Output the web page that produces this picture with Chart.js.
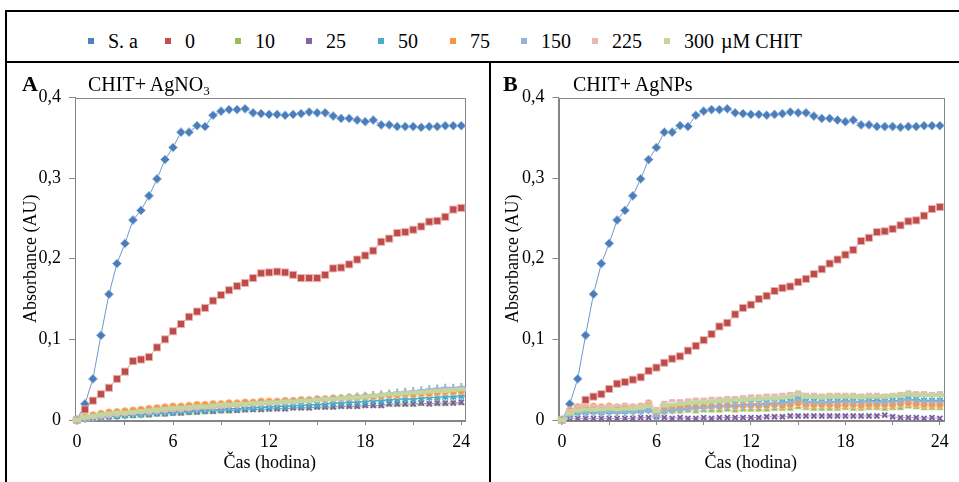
<!DOCTYPE html>
<html><head><meta charset="utf-8">
<script src="https://cdn.jsdelivr.net/npm/chart.js@4.4.0/dist/chart.umd.min.js"></script>
<style>
html,body{margin:0;padding:0;background:#fff;}
body{width:959px;height:482px;position:relative;overflow:hidden;font-family:"Liberation Serif","Times New Roman",serif;color:#000;}
.ln{position:absolute;background:#000;}
.cv{position:absolute;}
.mk{position:absolute;top:38px;width:6px;height:6px;}
.lt{position:absolute;top:29px;font-size:20px;line-height:24px;white-space:nowrap;}
.pl{position:absolute;font-size:22px;line-height:22px;font-weight:bold;}
.pt{position:absolute;font-size:20px;line-height:20px;white-space:nowrap;}
.pt sub{font-size:13px;vertical-align:-4px;line-height:0;}
</style></head><body>
<div class="ln" style="left:5px;top:10px;width:954px;height:2px"></div>
<div class="ln" style="left:5px;top:10px;width:2px;height:472px"></div>
<div class="ln" style="left:5px;top:61px;width:954px;height:2px"></div>
<div class="ln" style="left:489px;top:61px;width:2px;height:421px"></div>
<div id="legend"></div>
<canvas id="cA" class="cv" width="482" height="418" style="left:7px;top:64px"></canvas>
<canvas id="cB" class="cv" width="467" height="418" style="left:492px;top:64px"></canvas>
<div class="pl" style="left:22px;top:73px">A</div>
<div class="pt" style="left:88px;top:74px">CHIT+ AgNO<sub>3</sub></div>
<div class="pl" style="left:503px;top:73px">B</div>
<div class="pt" style="left:573px;top:74px">CHIT+ AgNPs</div>
<script>
// ---------------- DATA ----------------
const seriesLabels = ['S. a', '0', '10', '25', '50', '75', '150', '225', '300'];
const unitLabel = 'µM CHIT';
const xTickValues = [0, 3, 6, 9, 12, 15, 18, 21, 24];
const yTickValues = [0, 0.1, 0.2, 0.3, 0.4];
const times = [0,0.5,1,1.5,2,2.5,3,3.5,4,4.5,5,5.5,6,6.5,7,7.5,8,8.5,9,9.5,10,10.5,11,11.5,12,
  12.5,13,13.5,14,14.5,15,15.5,16,16.5,17,17.5,18,18.5,19,19.5,20,20.5,21,21.5,22,22.5,23,23.5,24];

// S. a control (same in both panels)
const sa = [0,0.020,0.051,0.105,0.156,0.194,0.219,0.248,0.260,0.278,0.299,0.323,0.338,0.357,0.357,0.365,0.364,
  0.378,0.383,0.385,0.385,0.386,0.381,0.380,0.379,0.379,0.378,0.379,0.380,0.382,0.381,0.381,0.377,0.374,0.374,
  0.372,0.370,0.372,0.366,0.366,0.364,0.364,0.364,0.363,0.364,0.364,0.365,0.365,0.365];

// Panel A: CHIT + AgNO3
const c0A = [0,0.013,0.024,0.032,0.040,0.051,0.060,0.073,0.075,0.078,0.090,0.100,0.110,0.119,0.128,0.1345,0.139,
  0.148,0.155,0.161,0.166,0.170,0.176,0.182,0.183,0.184,0.183,0.180,0.176,0.176,0.176,
  0.180,0.188,0.189,0.193,0.199,0.204,0.210,0.221,0.225,0.232,0.233,0.236,0.240,0.246,0.247,0.252,0.261,0.263];
const c10A = [0,0.001,0.002,0.003,0.004,0.004,0.005,0.005,0.006, 0.006,0.007,0.007,0.008,0.008,0.009,0.009,0.010,
  0.010,0.011,0.011,0.012,0.012,0.013,0.013,0.013, 0.014,0.014,0.015,0.015,0.015,0.016,0.016,0.016,
  0.017,0.017,0.017,0.018,0.018,0.018,0.019,0.019, 0.019,0.019,0.020,0.020,0.020,0.020,0.021,0.021];
const c25A = [0,0.002,0.003,0.004,0.004,0.005,0.006,0.006,0.007, 0.007,0.008,0.008,0.009,0.009,0.010,0.010,0.011,
  0.011,0.012,0.012,0.012,0.013,0.013,0.013,0.014, 0.014,0.014,0.015,0.015,0.015,0.016,0.016,0.016,
  0.017,0.017,0.017,0.018,0.018,0.018,0.020,0.020, 0.020,0.020,0.021,0.020,0.021,0.021,0.021,0.022];
const c50A = [0,0.002,0.003,0.004,0.005,0.005,0.006,0.007,0.007, 0.008,0.009,0.009,0.010,0.011,0.011,0.012,0.012,
  0.013,0.013,0.014,0.014,0.015,0.015,0.016,0.016, 0.017,0.017,0.018,0.018,0.019,0.019,0.020,0.021,
  0.021,0.022,0.022,0.023,0.024,0.024,0.025,0.026, 0.026,0.026,0.027,0.028,0.028,0.029,0.029,0.030];
const c75A = [0,0.004,0.006,0.008,0.0095,0.010,0.011,0.012,0.013, 0.014,0.015,0.016,0.017,0.017,0.018,0.019,0.019,
  0.020,0.020,0.021,0.021,0.022,0.022,0.023,0.023, 0.023,0.024,0.024,0.025,0.025,0.026,0.026,0.027,
  0.027,0.028,0.028,0.029,0.029,0.030,0.031,0.031, 0.032,0.032,0.033,0.033,0.034,0.035,0.035,0.036];
const c150A = [0,0.002,0.003,0.005,0.006,0.007,0.008,0.008,0.009, 0.010,0.011,0.011,0.012,0.013,0.014,0.014,0.015,
  0.016,0.016,0.017,0.018,0.018,0.019,0.020,0.020, 0.021,0.022,0.022,0.023,0.024,0.025,0.025,0.026,
  0.027,0.028,0.029,0.030,0.031,0.032,0.033,0.034, 0.035,0.036,0.037,0.038,0.039,0.040,0.040,0.041];
const c225A = [0,0.002,0.003,0.004,0.005,0.006,0.007,0.008,0.009, 0.009,0.010,0.011,0.012,0.012,0.013,0.014,0.015,
  0.015,0.016,0.017,0.017,0.018,0.019,0.019,0.020, 0.021,0.021,0.022,0.023,0.023,0.024,0.025,0.026,
  0.026,0.027,0.028,0.029,0.030,0.031,0.032,0.033, 0.034,0.034,0.035,0.036,0.037,0.038,0.038,0.039];
const c300A = [0,0.004,0.005,0.007,0.008,0.009,0.009,0.010,0.011, 0.012,0.013,0.014,0.015,0.015,0.016,0.017,0.017,
  0.018,0.019,0.019,0.020,0.020,0.021,0.021,0.022, 0.022,0.023,0.023,0.024,0.024,0.025,0.026,0.026,
  0.027,0.028,0.028,0.029,0.030,0.031,0.032,0.032, 0.033,0.034,0.034,0.035,0.036,0.036,0.037,0.038];

// Panel B: CHIT + AgNPs
const c0B = [0,0.009,0.015,0.025,0.029,0.032,0.0385,0.045,0.047, 0.050,0.053,0.061,0.065,0.071,0.076,0.079,0.086,
  0.092,0.099,0.1065,0.116,0.1205,0.131,0.139,0.143, 0.150,0.154,0.160,0.1636,0.1656,0.171,0.175,0.181,
  0.187,0.194,0.199,0.205,0.211,0.222,0.226,0.233, 0.234,0.237,0.2414,0.2464,0.2476,0.2534,0.2617,0.2642];
const c10B = [0,0.006,0.009,0.010,0.010,0.010,0.010,0.010,0.011, 0.010,0.011,0.012,0.007,0.010,0.011,0.011,0.012,
  0.011,0.012,0.012,0.012,0.013,0.012,0.013,0.013, 0.013,0.013,0.014,0.014,0.014,0.016,0.015,0.014,
  0.014,0.014,0.014,0.015,0.014,0.014,0.015,0.015, 0.014,0.015,0.015,0.017,0.016,0.015,0.015,0.015];
const c25B = [0,0.002,0.002,0.002,0.002,0.002,0.002,0.002,0.002, 0.002,0.003,0.003,0.004,0.003,0.002,0.003,0.002,
  0.002,0.003,0.002,0.003,0.003,0.003,0.003,0.003, 0.003,0.004,0.004,0.004,0.005,0.005,0.005,0.005,
  0.005,0.005,0.005,0.005,0.005,0.005,0.005,0.005, 0.006,0.004,0.003,0.003,0.003,0.002,0.003,0.002];
const c50B = [0,0.007,0.010,0.010,0.011,0.010,0.011,0.011,0.011, 0.012,0.012,0.013,0.008,0.013,0.014,0.015,0.016,
  0.016,0.017,0.017,0.018,0.018,0.019,0.019,0.020, 0.020,0.021,0.021,0.022,0.023,0.026,0.023,0.023,
  0.022,0.023,0.023,0.024,0.023,0.023,0.024,0.024, 0.023,0.024,0.024,0.026,0.025,0.024,0.024,0.024];
const c75B = [0,0.012,0.016,0.016,0.017,0.016,0.017,0.016,0.017, 0.016,0.017,0.021,0.011,0.015,0.016,0.016,0.017,
  0.016,0.017,0.017,0.017,0.018,0.017,0.018,0.018, 0.018,0.018,0.019,0.018,0.019,0.021,0.019,0.019,
  0.019,0.019,0.018,0.019,0.019,0.018,0.019,0.019, 0.019,0.019,0.020,0.021,0.020,0.019,0.019,0.019];
const c150B = [0,0.006,0.009,0.009,0.010,0.009,0.010,0.009,0.010, 0.010,0.011,0.012,0.005,0.011,0.012,0.013,0.014,
  0.015,0.015,0.016,0.017,0.017,0.018,0.018,0.019, 0.019,0.020,0.020,0.021,0.022,0.025,0.022,0.022,
  0.021,0.022,0.022,0.023,0.022,0.022,0.023,0.022, 0.022,0.023,0.023,0.025,0.024,0.023,0.023,0.023];
const c225B = [0,0.012,0.017,0.018,0.018,0.017,0.018,0.018,0.019, 0.018,0.019,0.022,0.014,0.022,0.024,0.024,0.025,
  0.026,0.026,0.027,0.027,0.028,0.028,0.029,0.030, 0.030,0.031,0.031,0.032,0.033,0.035,0.032,0.032,
  0.031,0.032,0.032,0.032,0.032,0.031,0.032,0.032, 0.031,0.032,0.033,0.035,0.034,0.034,0.033,0.034];
const c300B = [0,0.008,0.012,0.013,0.013,0.013,0.014,0.013,0.014, 0.014,0.015,0.017,0.011,0.018,0.019,0.020,0.021,
  0.022,0.022,0.023,0.024,0.024,0.025,0.025,0.026, 0.026,0.027,0.027,0.028,0.029,0.032,0.029,0.029,
  0.028,0.029,0.029,0.029,0.029,0.028,0.029,0.029, 0.029,0.030,0.030,0.032,0.031,0.031,0.031,0.031];

const panelA = [sa, c0A, c10A, c25A, c50A, c75A, c150A, c225A, c300A];
const panelB = [sa, c0B, c10B, c25B, c50B, c75B, c150B, c225B, c300B];

// ---------------- STYLE ----------------
const styles = [
  {color:'#4A7EBB', glow:'rgba(175,198,228,0.9)', line:'#6F98CC', shape:'rectRot', r:4.6, bw:1},
  {color:'#BE4B48', glow:'rgba(232,180,179,0.9)', line:'rgba(200,120,118,0.7)', shape:'rect', r:5, bw:1},
  {color:'#98B954', glow:'rgba(205,222,175,0.8)', line:'rgba(155,187,89,0.6)', shape:'triangle', r:4, bw:1},
  {color:'#7D60A0', glow:'#7D60A0', line:'rgba(128,100,162,0.6)', shape:'crossRot', r:3.5, bw:2},
  {color:'#46AAC5', glow:'#46AAC5', line:'rgba(75,172,198,0.6)', shape:'star', r:4, bw:1.6},
  {color:'#F79646', glow:'rgba(250,200,160,0.8)', line:'rgba(247,150,70,0.6)', shape:'circle', r:3.6, bw:1},
  {color:'#95B3D7', glow:'#95B3D7', line:'rgba(149,179,215,0.6)', shape:'cross', r:4, bw:2},
  {color:'#E6B9B8', glow:'#E6B9B8', line:'rgba(230,185,184,0.6)', shape:'line', r:3, bw:3},
  {color:'#C3D69B', glow:'#C3D69B', line:'rgba(195,214,155,0.6)', shape:'line', r:4.5, bw:4}
];
const strokeShapes = ['crossRot','star','cross','line'];
const legendColors = ['#4F81BD','#C0504D','#9BBB59','#8064A2','#4BACC6','#F79646','#95B3D7','#E6B9B8','#C3D69B'];
const legendTextX = [108,185,255,326,398,470,541,612,684];
const FONT = '"Liberation Serif","Times New Roman",serif';

// legend (HTML)
const leg = document.getElementById('legend');
seriesLabels.forEach((lab,i)=>{
  const m = document.createElement('div'); m.className='mk';
  m.style.left=(legendTextX[i]-20)+'px'; m.style.background=legendColors[i]; leg.appendChild(m);
  const t = document.createElement('div'); t.className='lt';
  t.style.left=legendTextX[i]+'px'; t.textContent=lab; leg.appendChild(t);
});
const u = document.createElement('div'); u.className='lt'; u.style.left='721px'; u.textContent=unitLabel; leg.appendChild(u);

const boxPlugin = {
  id:'box',
  beforeDatasetsDraw(chart){
    const {ctx, chartArea:a} = chart;
    ctx.save(); ctx.strokeStyle='#868686'; ctx.lineWidth=1;
    ctx.strokeRect(Math.round(a.left)+0.5, Math.round(a.top)+0.5, Math.round(a.right-a.left), Math.round(a.bottom-a.top));
    ctx.restore();
  }
};

function makePanel(id, values, yWidth, padRight, xMin, titlePad){
  const datasets = values.map((vals,i)=>{
    const s = styles[i];
    const stroke = strokeShapes.includes(s.shape);
    return {
      label: seriesLabels[i],
      data: times.map((t,k)=>({x:t, y:vals[k]})),
      showLine: true,
      borderColor: s.line,
      borderWidth: 1,
      pointStyle: s.shape,
      pointRadius: s.r,
      pointHoverRadius: s.r,
      pointBackgroundColor: s.color,
      pointBorderColor: stroke ? s.color : s.glow,
      pointBorderWidth: s.bw,
      clip: false,
      order: 10 - i
    };
  });
  return new Chart(document.getElementById(id), {
    type: 'scatter',
    data: {datasets},
    plugins: [boxPlugin],
    options: {
      responsive:false, animation:false, devicePixelRatio:1,
      layout:{padding:{top:33.5, right:padRight, left:0, bottom:0}},
      plugins:{legend:{display:false}, tooltip:{enabled:false}},
      scales:{
        x:{
          type:'linear', min:xMin, max:24.2,
          afterBuildTicks: ax => { ax.ticks = xTickValues.map(v=>({value:v})); },
          afterFit: s => { s.height = 62; },
          grid:{drawOnChartArea:false, color:'#868686', tickLength:5},
          border:{color:'#868686'},
          ticks:{autoSkip:false, maxRotation:0, padding:6, color:'#000',
            font:{family:FONT, size:18},
            callback: v => (v % 6 === 0 ? String(v) : '')},
          title:{display:true, text:'Čas (hodina)', color:'#000', font:{family:FONT, size:18}, padding:{top:0,bottom:8}}
        },
        y:{
          min:0, max:0.4,
          afterBuildTicks: ax => { ax.ticks = yTickValues.map(v=>({value:v})); },
          afterFit: s => { s.width = yWidth; },
          grid:{drawOnChartArea:false, color:'#868686', tickLength:6},
          border:{color:'#868686'},
          ticks:{padding:8, color:'#000', font:{family:FONT, size:18},
            callback: v => (v === 0 ? '0' : v.toFixed(1).replace('.', ','))},
          title:{display:true, text:'Absorbance (AU)', color:'#000', font:{family:FONT, size:18}, padding:{top:titlePad,bottom:0}}
        }
      }
    }
  });
}

makePanel('cA', panelA, 68, 24.5, -0.12, 13);
makePanel('cB', panelB, 66.5, 16, -0.22, 10);
</script>
</body></html>
